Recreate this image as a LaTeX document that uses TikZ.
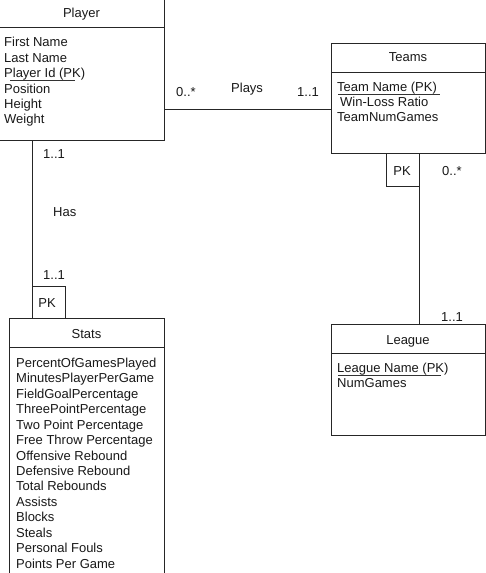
\documentclass[tikz,border=0pt]{standalone}
\usepackage{fontspec}
\setmainfont{Liberation Sans}
\begin{document}
\begin{tikzpicture}[x=1pt,y=-1pt,
  ln/.style={draw=black!85,line width=0.9pt},
  txt/.style={anchor=base west,inner sep=0pt,font=\fontsize{13}{15}\selectfont,text=black!90},
  ctr/.style={anchor=base,inner sep=0pt,font=\fontsize{13}{15}\selectfont,text=black!90},
  ul/.style={draw=black!80,line width=0.7pt}]
\useasboundingbox (0,0) rectangle (485,573);
\fill[white] (0,0) rectangle (485,573);
% Player
\draw[ln] (-2,-2) rectangle (164,140);
\draw[ln] (-2,27) -- (164,27);
\node[ctr] (ph) at (81.5,17) {Player};
\foreach \t [count=\i from 0] in {First Name,Last Name,Player Id (PK),Position,Height,Weight}
  \node[txt] (pa\i) at (4,{46.7+15.45*\i}) {\t};
\draw[ul] (10,80) -- (75,80);
% Teams
\draw[ln] (331,43) rectangle (485,153);
\draw[ln] (331,72) -- (485,72);
\node[ctr] (th) at (408,61.7) {Teams};
\node[txt] (ta0) at (337,91.7) {Team Name (PK)};
\node[txt] (ta1) at (340,106.6) {Win-Loss Ratio};
\node[txt] (ta2) at (337,121.5) {TeamNumGames};
\draw[ul] (338,94) -- (440,94);
% League
\draw[ln] (331,324) rectangle (485,435);
\draw[ln] (331,353) -- (485,353);
\node[ctr] (lh) at (408,344.3) {League};
\node[txt] (la0) at (337,372.7) {League Name (PK)};
\node[txt] (la1) at (337,387.7) {NumGames};
\draw[ul] (338,375) -- (441,375);
% Stats
\draw[ln] (9,318) rectangle (164,580);
\draw[ln] (9,347) -- (164,347);
\node[ctr] (sh) at (86.5,338) {Stats};
\foreach \t [count=\i from 0] in {PercentOfGamesPlayed,MinutesPlayerPerGame,FieldGoalPercentage,ThreePointPercentage,Two Point Percentage,Free Throw Percentage,Offensive Rebound,Defensive Rebound,Total Rebounds,Assists,Blocks,Steals,Personal Fouls,Points Per Game}
  \node[txt] (sa\i) at (16,{367.3+15.45*\i}) {\t};
% PK boxes
\draw[ln] (32,286) rectangle (65,318);
\node[ctr] (pk1) at (47,307) {PK};
\draw[ln] (386,153) rectangle (419,186);
\node[ctr] (pk2) at (402,175) {PK};
% connectors
\coordinate (c1) at (164,109);
\coordinate (c2) at (331,109);
\draw[ln] (c1) -- (c2);
\coordinate (c3) at (32,140);
\coordinate (c4) at (32,286);
\draw[ln] (c3) -- (c4);
\coordinate (c5) at (419,186);
\coordinate (c6) at (419,324);
\draw[ln] (c5) -- (c6);
% labels
\node[txt] (l1) at (176,96.7) {0..*};
\node[txt] (l2) at (231,92) {Plays};
\node[txt] (l3) at (297,96.7) {1..1};
\node[txt] (l4) at (43,158) {1..1};
\node[txt] (l5) at (53,216.7) {Has};
\node[txt] (l6) at (43,279) {1..1};
\node[txt] (l7) at (442,175) {0..*};
\node[txt] (l8) at (441,321.7) {1..1};
\end{tikzpicture}
\end{document}
